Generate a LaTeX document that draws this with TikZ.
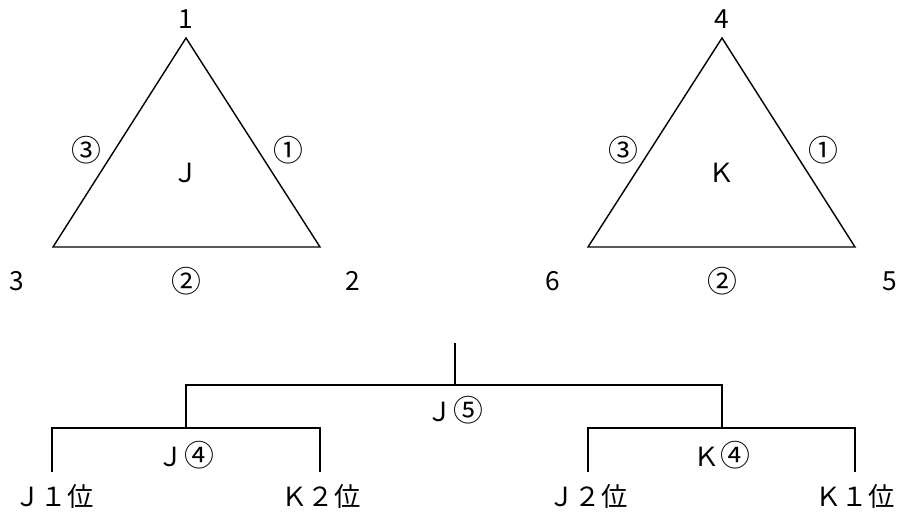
\documentclass[tikz,border=0pt]{standalone}
\usepackage{fontspec}
\setmainfont{Noto Sans CJK JP}
\usepackage{tikz}
\newcommand{\circnum}[1]{{\fontsize{17}{19}\selectfont #1}}

\begin{document}
\begin{tikzpicture}[x=0.02cm, y=-0.02cm, font=\fontsize{15}{17}\selectfont,
        tri/.style={line width=0.8pt, line join=miter},
        bracket/.style={line width=1.1pt}, lbl/.style={inner sep=0pt}]
        \useasboundingbox (0,0) rectangle (901,511);
        \coordinate (j1) at (186,38);
        \coordinate (j2) at (320,247);
        \coordinate (j3) at (53,247);
        \draw[tri] (j1) -- (j2) -- (j3) -- cycle;
        \node[lbl] (jv1) at (186,19) {1};
        \node[lbl] (jv2) at (353,281) {2};
        \node[lbl] (jv3) at (17,281) {3};
        \node[lbl] (je1) at (288,150) {\circnum{①}};
        \node[lbl] (je2) at (186,281) {\circnum{②}};
        \node[lbl] (je3) at (86,150) {\circnum{③}};
        \node[lbl] (jname) at (186,173) {Ｊ};
        \coordinate (k4) at (722,38);
        \coordinate (k5) at (855,247);
        \coordinate (k6) at (588,247);
        \draw[tri] (k4) -- (k5) -- (k6) -- cycle;
        \node[lbl] (kv4) at (722,19) {4};
        \node[lbl] (kv5) at (890,281) {5};
        \node[lbl] (kv6) at (553,281) {6};
        \node[lbl] (ke1) at (823,150) {\circnum{①}};
        \node[lbl] (ke2) at (722,281) {\circnum{②}};
        \node[lbl] (ke3) at (623,150) {\circnum{③}};
        \node[lbl] (kname) at (722,173) {Ｋ};
        \coordinate (top) at (455,343);
        \coordinate (final) at (455,385);
        \coordinate (semiJ) at (186,428);
        \coordinate (semiK) at (722,428);
        \coordinate (seedJ1) at (52,472);
        \coordinate (seedK2) at (320,472);
        \coordinate (seedJ2) at (588,472);
        \coordinate (seedK1) at (855,472);
        \draw[bracket] (top) -- (final);
        \draw[bracket] (semiJ) |- (final) -| (semiK);
        \draw[bracket] (seedJ1) |- (semiJ) -| (seedK2);
        \draw[bracket] (seedJ2) |- (semiK) -| (seedK1);
        \node[lbl] (game5) at (455,410) {Ｊ\circnum{⑤}};
        \node[lbl] (game4J) at (186,455) {Ｊ\circnum{④}};
        \node[lbl] (game4K) at (722,455) {Ｋ\circnum{④}};
        \node[lbl] (nJ1) at (54,496) {Ｊ１位};
        \node[lbl] (nK2) at (321,496) {Ｋ２位};
        \node[lbl] (nJ2) at (588,496) {Ｊ２位};
        \node[lbl] (nK1) at (855,496) {Ｋ１位};
    \end{tikzpicture}
\end{document}
